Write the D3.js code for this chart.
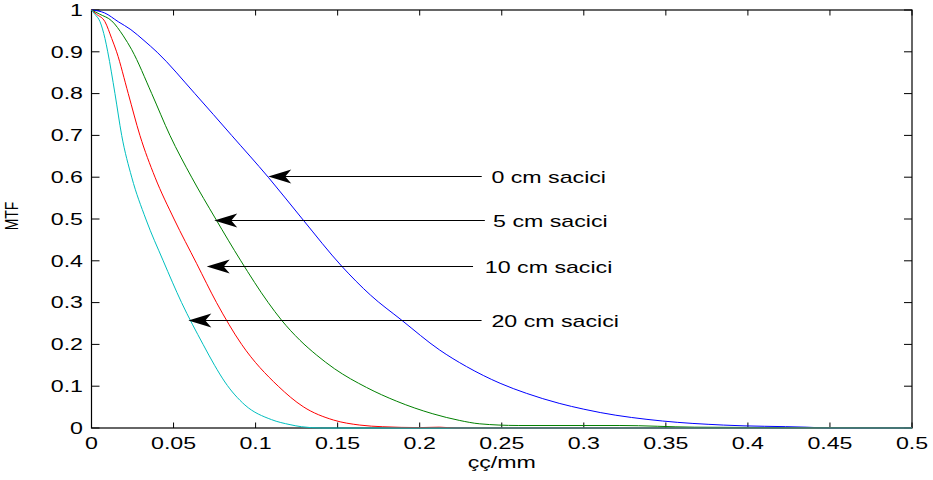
<!DOCTYPE html>
<html>
<head>
<meta charset="utf-8">
<script src="https://cdn.jsdelivr.net/npm/d3@7"></script>
<style>
  html, body { margin: 0; padding: 0; background: #fff; }
  svg { display: block; }
  text { font-family: "Liberation Sans", Arial, Helvetica, sans-serif; fill: #000; }
</style>
</head>
<body>
<svg id="chart" width="933" height="480"></svg>
<script>
// ---- data ----
const xTicks = [0, 0.05, 0.1, 0.15, 0.2, 0.25, 0.3, 0.35, 0.4, 0.45, 0.5];
const xTickLabels = ["0", "0.05", "0.1", "0.15", "0.2", "0.25", "0.3", "0.35", "0.4", "0.45", "0.5"];
const yTicks = [0, 0.1, 0.2, 0.3, 0.4, 0.5, 0.6, 0.7, 0.8, 0.9, 1];
const yTickLabels = ["0", "0.1", "0.2", "0.3", "0.4", "0.5", "0.6", "0.7", "0.8", "0.9", "1"];
const xLabel = "çç/mm";
const yLabel = "MTF";

const freq0 = [0, 0.008, 0.0163, 0.024, 0.032, 0.040, 0.063, 0.0854, 0.1077, 0.1285, 0.1525, 0.17, 0.189, 0.212, 0.2285, 0.249, 0.265, 0.285, 0.30, 0.31, 0.348, 0.385, 0.4355, 0.45, 0.5];
const mtf0  = [1, 0.993, 0.972, 0.953, 0.927, 0.899, 0.8, 0.7, 0.6, 0.5, 0.387, 0.318, 0.258, 0.187, 0.147, 0.107, 0.083, 0.059, 0.045, 0.037, 0.0167, 0.007, 0.002, 0, 0];

const freq5 = [0, 0.005, 0.0123, 0.0194, 0.0245, 0.0367, 0.0478, 0.061, 0.0757, 0.091, 0.1077, 0.1158, 0.127, 0.137, 0.148, 0.1676, 0.186, 0.208, 0.2244, 0.2366, 0.26, 0.322, 0.3675, 0.5];
const mtf5  = [1, 0.99, 0.974, 0.938, 0.905, 0.8, 0.7, 0.6, 0.5, 0.4, 0.3, 0.258, 0.21, 0.175, 0.142, 0.097, 0.064, 0.034, 0.018, 0.010, 0.006, 0.006, 0.002, 0];

const freq10 = [0, 0.003, 0.0082, 0.0123, 0.0153, 0.0224, 0.0295, 0.0387, 0.0503, 0.064, 0.0762, 0.0915, 0.1138, 0.129, 0.1475, 0.1635, 0.1775, 0.2, 0.212, 0.222, 0.5];
const mtf10  = [1, 0.99, 0.972, 0.932, 0.9, 0.8, 0.7, 0.6, 0.5, 0.394, 0.3, 0.2, 0.1, 0.051, 0.019, 0.007, 0.003, 0.001, 0.002, 0, 0];

const freq20 = [0, 0.002, 0.0052, 0.0082, 0.0099, 0.0143, 0.0184, 0.0245, 0.0331, 0.0437, 0.0549, 0.068, 0.075, 0.0813, 0.0935, 0.1097, 0.121, 0.128, 0.14, 0.5];
const mtf20  = [1, 0.99, 0.972, 0.932, 0.9, 0.8, 0.7, 0.6, 0.5, 0.4, 0.3, 0.2, 0.15, 0.11, 0.055, 0.02, 0.008, 0.003, 0, 0];

const seriesNames = ["0 cm sacici", "5 cm sacici", "10 cm sacici", "20 cm sacici"];
const seriesColors = ["#0000ff", "#008000", "#ff0000", "#00bfbf"];

// annotation arrows: tip (x,y) in data units, tail x in data units, text x in data units
const annTipX  = [0.1077, 0.0748, 0.0702, 0.0590];
const annY     = [0.603, 0.4985, 0.387, 0.258];
const annTailX = [0.2378, 0.2397, 0.2325, 0.2377];
const annTextX = [0.2437, 0.2447, 0.2397, 0.2437];

// ---- layout ----
const svg = d3.select("#chart");
const L = 91.5, R = 912, T = 10, B = 428;
const SX = 1.45; // horizontal text stretch of the original figure

const x = d3.scaleLinear().domain([0, 0.5]).range([L, R]);
const y = d3.scaleLinear().domain([0, 1]).range([B, T]);

const g = svg.append("g");

// axes box
g.append("rect").attr("x", L).attr("y", T).attr("width", R - L).attr("height", B - T)
  .attr("fill", "none").attr("stroke", "#000").attr("stroke-width", 1.2);

// x ticks (bottom & top)
xTicks.forEach((t, i) => {
  const px = x(t);
  g.append("line").attr("x1", px).attr("x2", px).attr("y1", B).attr("y2", B - 5.5).attr("stroke", "#000");
  g.append("line").attr("x1", px).attr("x2", px).attr("y1", T).attr("y2", T + 5.5).attr("stroke", "#000");
  g.append("text").attr("transform", `translate(${px},449) scale(${SX},1)`)
    .attr("text-anchor", "middle").attr("font-size", 16).text(xTickLabels[i]);
});
// y ticks (left & right)
yTicks.forEach((t, i) => {
  const py = y(t);
  g.append("line").attr("x1", L).attr("x2", L + 8).attr("y1", py).attr("y2", py).attr("stroke", "#000");
  g.append("line").attr("x1", R).attr("x2", R - 8).attr("y1", py).attr("y2", py).attr("stroke", "#000");
  g.append("text").attr("transform", `translate(83,${py + 5.7}) scale(${SX},1)`)
    .attr("text-anchor", "end").attr("font-size", 16).text(yTickLabels[i]);
});

// axis labels
g.append("text").attr("transform", `translate(${(L + R) / 2},468) scale(${SX},1)`)
  .attr("text-anchor", "middle").attr("font-size", 16).text(xLabel);
g.append("text").attr("transform", `translate(18,216) rotate(-90) scale(1,1.25)`)
  .attr("text-anchor", "middle").attr("font-size", 14).text(yLabel);

// curves
const line = d3.line().x(d => x(d[0])).y(d => y(d[1])).curve(d3.curveMonotoneX);
const series = [[freq0, mtf0], [freq5, mtf5], [freq10, mtf10], [freq20, mtf20]];
series.forEach((s, i) => {
  const pts = s[0].map((f, j) => [f, s[1][j]]);
  g.append("path").datum(pts).attr("d", line)
    .attr("fill", "none").attr("stroke", seriesColors[i]).attr("stroke-width", 1);
});

// annotations
seriesNames.forEach((name, i) => {
  const tx = x(annTipX[i]), ty = Math.round(y(annY[i])) + 0.5;
  g.append("line").attr("x1", tx + 10).attr("x2", x(annTailX[i])).attr("y1", ty).attr("y2", ty)
    .attr("stroke", "#000").attr("stroke-width", 1);
  g.append("path")
    .attr("d", `M${tx},${ty} L${tx + 23},${ty - 7} L${tx + 17},${ty} L${tx + 23},${ty + 7} Z`)
    .attr("fill", "#000");
  g.append("text").attr("transform", `translate(${x(annTextX[i])},${ty + 6}) scale(${SX},1)`)
    .attr("text-anchor", "start").attr("font-size", 16).text(name);
});
</script>
</body>
</html>
